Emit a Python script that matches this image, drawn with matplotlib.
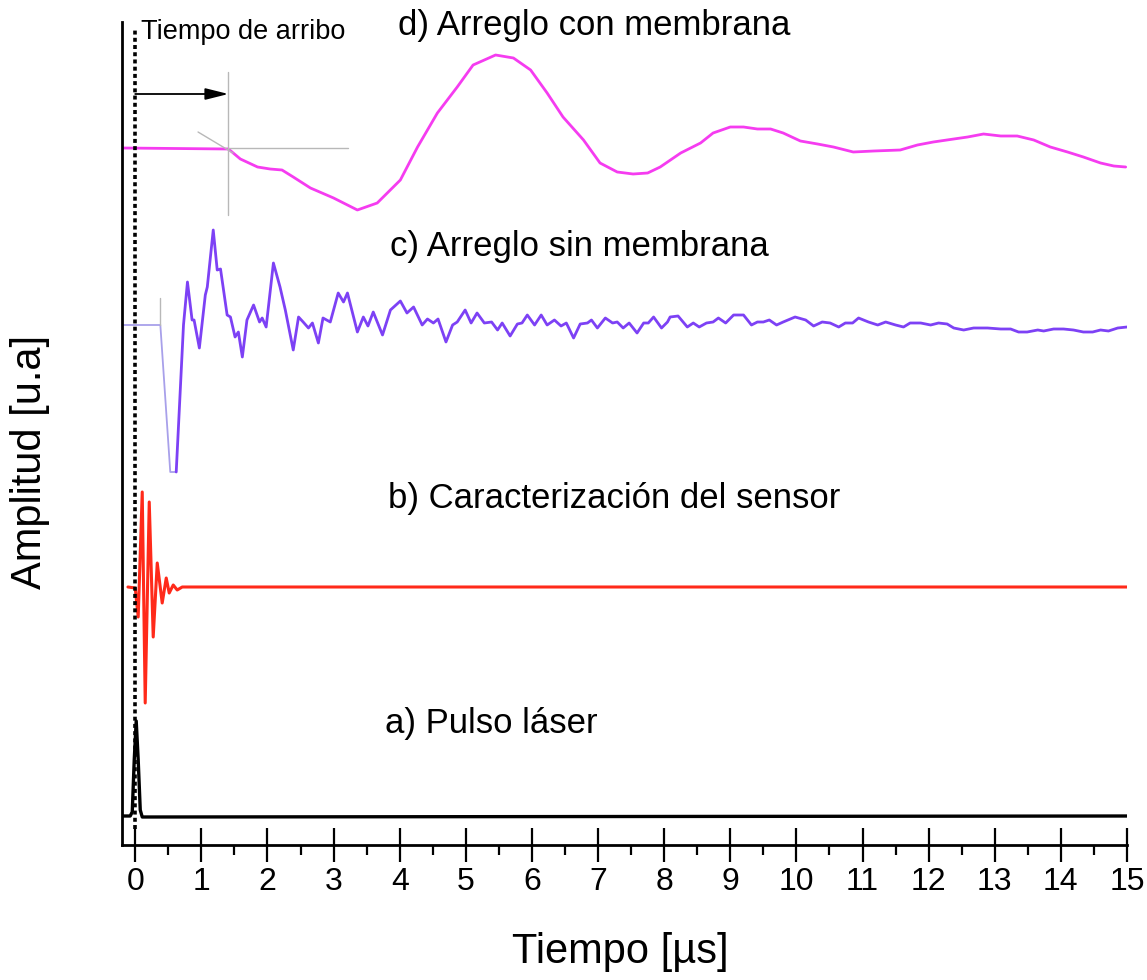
import numpy as np
import matplotlib
matplotlib.use("Agg")
import matplotlib.pyplot as plt

plt.rcParams['font.family'] = ['Liberation Sans', 'DejaVu Sans']
plt.rcParams['lines.solid_joinstyle'] = 'round'
plt.rcParams['lines.solid_capstyle'] = 'round'

# %% señales (tiempo en us, amplitud en u.a. relativa a la linea base de cada traza)
t_d = [-0.20, 1.41, 1.59, 1.85, 2.04, 2.22, 2.39, 2.65, 3.00, 3.36, 3.66, 4.01, 4.27,
       4.57, 4.87, 5.11, 5.45, 5.72, 5.98, 6.23, 6.47, 6.78, 7.03, 7.29, 7.53, 7.75,
       7.94, 8.25, 8.55, 8.74, 9.00, 9.20, 9.41, 9.61, 9.80, 10.06, 10.32, 10.56,
       10.86, 11.17, 11.57, 11.83, 12.07, 12.38, 12.59, 12.83, 13.09, 13.34, 13.59,
       13.84, 14.10, 14.34, 14.60, 14.80, 14.98]
a_d = [0.0, -0.1, -1.1, -1.9, -2.1, -2.2, -2.9, -4.0, -5.0, -6.2, -5.5, -3.2, 0.1,
       3.5, 6.1, 8.3, 9.3, 9.0, 7.8, 5.5, 3.1, 0.8, -1.5, -2.4, -2.6, -2.5,
       -1.9, -0.5, 0.5, 1.5, 2.1, 2.1, 1.9, 1.9, 1.5, 0.7, 0.4, 0.1,
       -0.4, -0.3, -0.2, 0.3, 0.6, 0.9, 1.1, 1.4, 1.2, 1.2, 0.8,
       0.1, -0.4, -0.9, -1.5, -1.8, -1.9]

t_c = [-0.20, 0.38, 0.53, 0.62, 0.73, 0.79, 0.86, 0.89, 0.97, 1.06, 1.09, 1.18, 1.24,
       1.29, 1.39, 1.44, 1.51, 1.56, 1.62, 1.69, 1.79, 1.88, 1.92, 1.98, 2.09, 2.19,
       2.27, 2.39, 2.47, 2.54, 2.62, 2.68, 2.77, 2.84, 2.95, 3.07, 3.15, 3.21, 3.36,
       3.45, 3.52, 3.60, 3.74, 3.86, 4.01, 4.11, 4.21, 4.34, 4.42, 4.51, 4.58, 4.70,
       4.80, 4.87, 4.99, 5.08, 5.17, 5.28, 5.39, 5.48, 5.55, 5.67, 5.78, 5.85, 5.93,
       6.04, 6.14, 6.23, 6.34, 6.44, 6.52, 6.63, 6.73, 6.84, 6.90, 6.99, 7.11, 7.22,
       7.29, 7.38, 7.47, 7.59, 7.69, 7.76, 7.84, 7.96, 8.05, 8.09, 8.21, 8.35, 8.44,
       8.53, 8.64, 8.74, 8.82, 8.93, 9.05, 9.20, 9.32, 9.41, 9.50, 9.59, 9.70, 9.80,
       9.98, 10.14, 10.26, 10.39, 10.51, 10.64, 10.74, 10.85, 10.94, 11.09, 11.23,
       11.35, 11.50, 11.62, 11.72, 11.88, 12.03, 12.15, 12.28, 12.38, 12.53, 12.68,
       12.89, 13.09, 13.24, 13.36, 13.49, 13.65, 13.74, 13.89, 14.04, 14.19, 14.34,
       14.48, 14.60, 14.72, 14.86, 15.00]
a_c = [0.0, 0.0, -14.7, -14.7, 0.0, 4.3, 0.5, 0.5, -2.3, 3.0, 3.8, 9.5, 5.5,
       5.6, 1.0, 0.8, -1.2, -0.7, -3.2, 0.5, 2.0, 0.3, 0.7, -0.2, 6.2, 3.8,
       1.5, -2.5, 0.8, 0.3, -0.3, 0.2, -1.8, 0.7, 0.3, 3.2, 2.3, 3.2, -0.7,
       0.8, -0.1, 1.3, -1.0, 1.5, 2.4, 1.2, 1.8, 0.0, 0.6, 0.2, 0.6, -1.7,
       0.0, 0.3, 1.5, 0.2, 1.2, 0.2, 0.3, -0.5, 0.2, -1.1, 0.1, 0.2, 1.0,
       0.0, 1.0, 0.0, 0.5, -0.1, 0.2, -1.3, 0.1, 0.2, 0.5, -0.3, 0.7, 0.2,
       0.3, -0.3, 0.2, -0.8, 0.2, 0.2, 0.8, -0.3, 0.3, 0.8, 0.9, -0.2, 0.2,
       -0.2, 0.2, 0.3, 0.7, 0.2, 1.0, 1.0, 0.0, 0.3, 0.3, 0.5, 0.0, 0.3,
       0.8, 0.5, -0.1, 0.3, 0.2, -0.2, 0.2, 0.2, 0.7, 0.3, 0.0,
       0.3, 0.0, -0.2, 0.2, 0.2, 0.0, 0.2, 0.1, -0.3, -0.5, -0.3,
       -0.3, -0.4, -0.4, -0.7, -0.7, -0.5, -0.6, -0.4, -0.4, -0.5, -0.7,
       -0.7, -0.5, -0.6, -0.3, -0.2]

t_b = [-0.11, 0.00, 0.045, 0.106, 0.151, 0.212, 0.272, 0.333, 0.408, 0.469, 0.514,
       0.575, 0.635, 0.711, 15.0]
a_b = [0.0, -0.1, -3.0, 9.5, -11.6, 8.5, -5.0, 2.4, -1.6, 0.9, -0.6, 0.2, -0.3, 0.0, 0.0]

t_a = [-0.20, -0.076, -0.045, -0.015, 0.015, 0.045, 0.076, 0.106, 15.0]
a_a = [0.0, 0.0, 0.4, 5.6, 9.5, 5.6, 0.6, -0.1, 0.0]

# lineas base de cada traza
base = {'a': 2.9, 'b': 25.8, 'c': 52.0, 'd': 69.7}
t_arribo = 1.41

etiquetas = ['a) Pulso láser', 'b) Caracterización del sensor',
             'c) Arreglo sin membrana', 'd) Arreglo con membrana']

# %% figura
fig = plt.figure(figsize=(11.47, 9.8), dpi=100)
ax = fig.add_axes([122/1147, 1 - 845/980, 1005/1147, 823/980])

ax.plot(t_a, np.array(a_a) + base['a'], color='black', lw=2.4)
ax.plot(t_b, np.array(a_b) + base['b'], color='#ff2a1a', lw=2.2)
ax.plot(t_c[:4], np.array(a_c[:4]) + base['c'], color='#a8a0ea', lw=1.3)
ax.plot(t_c[3:], np.array(a_c[3:]) + base['c'], color='#7d41f5', lw=2.0)
ax.plot(t_d, np.array(a_d) + base['d'], color='#f53cf0', lw=2.0)

# marcas del tiempo de arribo
gris = '#b8b8b8'
ax.plot([t_arribo, t_arribo], [63.0, 77.3], color=gris, lw=1.0)
ax.plot([t_arribo, 3.22], [base['d'], base['d']], color=gris, lw=1.0)
ax.plot([0.95, 1.48], [71.3, 69.2], color=gris, lw=1.0)
ax.plot([0.38, 0.38], [base['c'], 54.7], color=gris, lw=1.0)

ax.axvline(0, ymin=0.02, ymax=0.99, color='black', lw=2.6, ls=(0, (1.1, 0.9)))
ax.annotate('', xy=(t_arribo, 75.1), xytext=(0, 75.1),
            arrowprops=dict(arrowstyle='-|>,head_length=1.4,head_width=0.35',
                            color='black', lw=1.3, shrinkA=0, shrinkB=0))
ax.text(0.08, 80.6, 'Tiempo de arribo', fontsize=19.5, va='baseline')

ax.text(3.78, 11.2, etiquetas[0], fontsize=25, va='baseline')
ax.text(3.83, 33.7, etiquetas[1], fontsize=25, va='baseline')
ax.text(3.86, 58.9, etiquetas[2], fontsize=25, va='baseline')
ax.text(3.98, 81.0, etiquetas[3], fontsize=25, va='baseline')

ax.set_xlim(-0.2, 15.0)
ax.set_ylim(0, 82.3)
ax.set_xticks(np.arange(0, 16, 1))
ax.set_xticks(np.arange(0.5, 15, 1), minor=True)
ax.set_yticks([])
ax.tick_params(axis='x', which='major', direction='inout', length=24, width=1.6,
               labelsize=23, pad=4)
ax.tick_params(axis='x', which='minor', direction='out', length=7, width=1.6)
for s in ['top', 'right']:
    ax.spines[s].set_visible(False)
for s in ['left', 'bottom']:
    ax.spines[s].set_linewidth(2.0)

ax.set_xlabel('Tiempo [µs]', fontsize=30)
ax.xaxis.set_label_coords(0.4955, -0.106)
ax.set_ylabel('Amplitud [u.a]', fontsize=30)
ax.yaxis.set_label_coords(-0.0716, 0.465)

fig.savefig('out.png', dpi=100)
